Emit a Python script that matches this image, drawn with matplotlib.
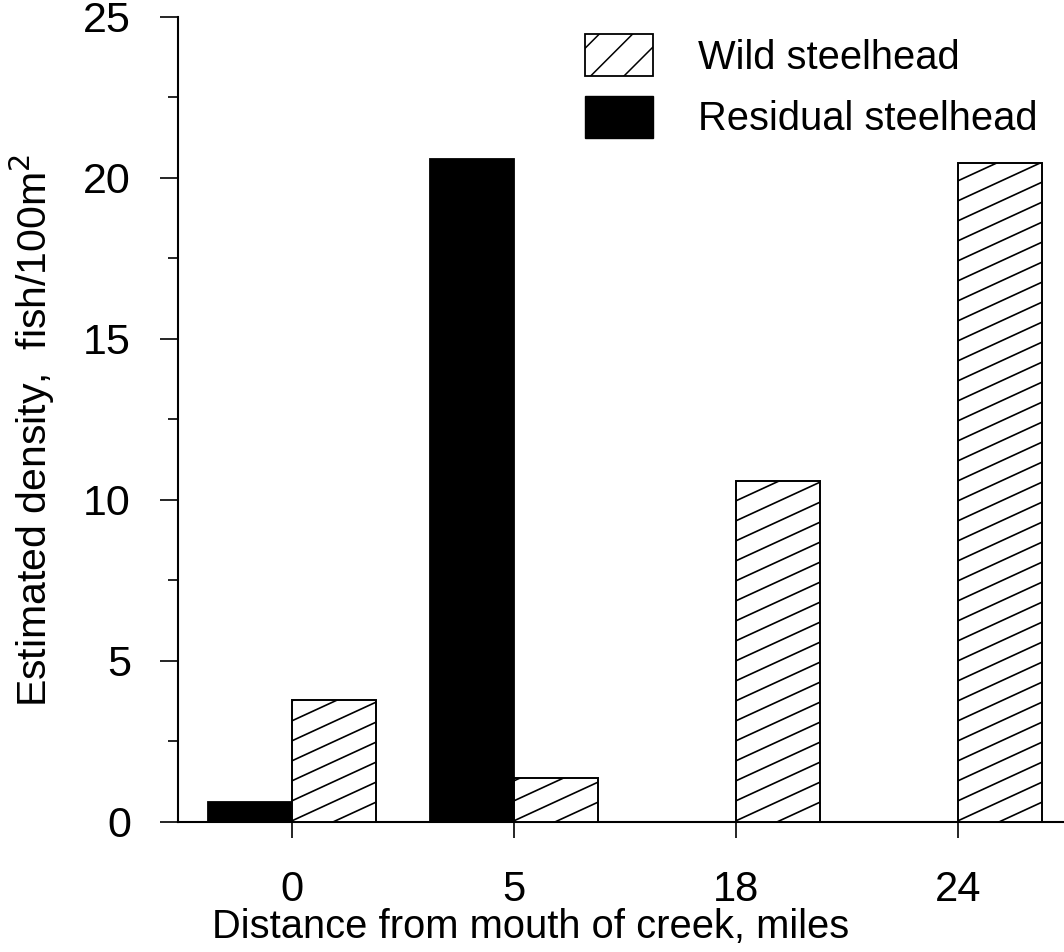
import numpy as np
import matplotlib.pyplot as plt
from matplotlib.patches import Patch

plt.rcParams['font.family'] = ['Liberation Sans', 'DejaVu Sans']
plt.rcParams['hatch.linewidth'] = 1.1

# data
distances = ['0', '5', '18', '24']
wild = [3.8, 1.35, 10.6, 20.45]
residual = [0.62, 20.6, 0.0, 0.0]

x = np.arange(len(distances))
w = 0.38

fig = plt.figure(figsize=(10.64, 9.52), dpi=100)
ax = fig.add_axes([0.1673, 0.1366, 0.8327, 0.8456])

ax.bar(x - w / 2, residual, width=w, color='black', edgecolor='black', linewidth=1.3)
wild_bars = ax.bar(x + w / 2, wild, width=w, color='white', edgecolor='black',
                   linewidth=1.4, zorder=3)

ax.set_xlim(-0.514, 3.477)
ax.set_ylim(0, 25)

# shallow hatch lines (about 25 degrees) clipped to each wild bar
p0 = ax.transData.transform((0, 0))
p1 = ax.transData.transform((1, 1))
px_x, px_y = p1[0] - p0[0], p1[1] - p0[1]
slope = 0.46 * px_x / px_y
step = 20 / px_y
for rect in wild_bars:
    x0 = rect.get_x()
    x1 = x0 + rect.get_width()
    h = rect.get_height()
    c = -slope * (x1 - x0)
    while c < h:
        ln, = ax.plot([x0, x1], [c, c + slope * (x1 - x0)], color='black',
                      linewidth=1.2, zorder=3.5)
        ln.set_clip_path(rect)
        c += step

for s in ['top', 'right']:
    ax.spines[s].set_visible(False)
for s in ['left', 'bottom']:
    ax.spines[s].set_linewidth(1.5)

ax.set_xticks(x)
ax.set_xticklabels(distances)
ax.set_yticks([0, 5, 10, 15, 20, 25])
ax.set_yticks(np.arange(2.5, 25, 5), minor=True)
ax.tick_params(axis='x', direction='out', length=11.5, width=1.2, pad=23, labelsize=30)
ax.tick_params(axis='y', which='major', direction='out', length=13, width=1.2,
               pad=21, labelsize=31)
ax.tick_params(axis='y', which='minor', direction='out', length=7, width=1.2)

ax.set_xlabel('Distance from mouth of creek, miles', fontsize=28.7)
ax.xaxis.set_label_coords(0.398, -0.130)
ax.xaxis.label.set_va('center')
ax.set_ylabel('Estimated density,  fish/100m$^2$', fontsize=29.5)
ax.yaxis.set_label_coords(-0.164, 0.487)
ax.yaxis.label.set_va('center')

handles = [Patch(facecolor='white', edgecolor='black', hatch='/', linewidth=1.3,
                 label='Wild steelhead'),
           Patch(facecolor='black', edgecolor='black', label='Residual steelhead')]
ax.legend(handles=handles, loc='upper left', bbox_to_anchor=(0.5498, 0.9643),
          bbox_transform=fig.transFigure, frameon=False, fontsize=28.7,
          borderpad=0, borderaxespad=0, handlelength=1.70, handleheight=1.26,
          labelspacing=0.48, handletextpad=1.13)

fig.savefig('out.png', dpi=100)
